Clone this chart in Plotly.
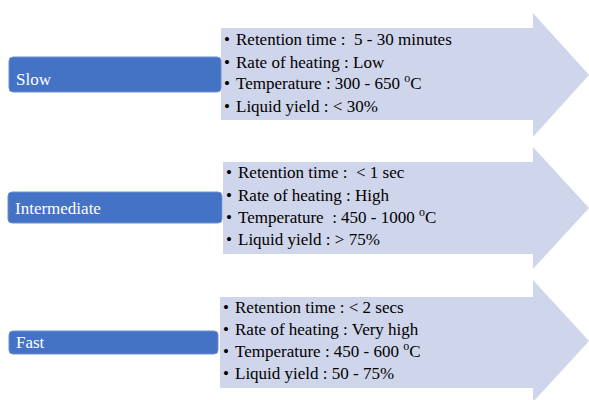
import plotly.graph_objects as go

# ---- data ----
categories = ["Slow", "Intermediate", "Fast"]
retention = ["Retention time :\u00a0 5 - 30 minutes", "Retention time :\u00a0 &lt; 1 sec", "Retention time : &lt; 2 secs"]
heating = ["Rate of heating : Low", "Rate of heating : High", "Rate of heating : Very high"]
temperature = ["Temperature : 300 - 650 <sup>o</sup>C", "Temperature \u00a0: 450 - 1000 <sup>o</sup>C", "Temperature : 450 - 600 <sup>o</sup>C"]
liquid = ["Liquid yield : &lt; 30%", "Liquid yield : &gt; 75%", "Liquid yield : 50 - 75%"]

# ---- layout geometry (pixels) ----
W, H = 589, 400
arrows = [  # body_left, body_top, body_bottom, head_x, head_top, head_bottom, tip_x, tip_y
    (221, 28, 120, 533, 13, 137, 589, 75),
    (223, 162, 254, 533, 147, 269, 589, 208),
    (220, 297, 388, 533, 280, 402, 589, 341),
]
boxes = [  # x0, x1, y0, y1, label_y
    (9, 221, 57, 92, 79),
    (8, 222, 192, 223, 208),
    (9, 218, 331, 354, 342),
]
line_y = [
    [39, 62, 83, 106],
    [172, 195, 217, 239],
    [307, 329, 351, 373],
]
ARROW_COL = "#CFD5EA"
BOX_COL = "#4472C4"
FONT = "Liberation Serif, Times New Roman, serif"
FS = 17

shapes = []
annotations = []

def rounded_rect(x0, x1, y0, y1, r):
    return (f"M{x0+r},{y0} L{x1-r},{y0} Q{x1},{y0} {x1},{y0+r} L{x1},{y1-r} Q{x1},{y1} {x1-r},{y1} "
            f"L{x0+r},{y1} Q{x0},{y1} {x0},{y1-r} L{x0},{y0+r} Q{x0},{y0} {x0+r},{y0} Z")

for i, cat in enumerate(categories):
    bl, bt, bb, hx, ht, hb, tx, ty = arrows[i]
    path = f"M{bl},{bt} L{hx},{bt} L{hx},{ht} L{tx},{ty} L{hx},{hb} L{hx},{bb} L{bl},{bb} Z"
    shapes.append(dict(type="path", path=path, fillcolor=ARROW_COL, line=dict(width=0), layer="below"))
    x0, x1, y0, y1, ly = boxes[i]
    shapes.append(dict(type="path", path=rounded_rect(x0, x1, y0, y1, 4), fillcolor=BOX_COL,
                       line=dict(color="#6F8FD0", width=1), layer="below"))
    annotations.append(dict(x=x0 + 5, y=ly, text=cat, showarrow=False, xanchor="left", yanchor="middle",
                            font=dict(family=FONT, size=FS, color="white")))
    texts = [retention[i], heating[i], temperature[i], liquid[i]]
    for j, t in enumerate(texts):
        y = line_y[i][j]
        ys = 1 if "<sup>" in t else 0
        annotations.append(dict(x=bl + 1, y=y, text="•", showarrow=False, xanchor="left", yanchor="middle",
                                font=dict(family=FONT, size=FS, color="black")))
        annotations.append(dict(x=bl + 13, y=y, yshift=ys, text=t, showarrow=False, xanchor="left", yanchor="middle",
                                font=dict(family=FONT, size=FS, color="black")))

fig = go.Figure()
fig.update_layout(
    width=W, height=H, margin=dict(l=0, r=0, t=0, b=0),
    paper_bgcolor="white", plot_bgcolor="white",
    xaxis=dict(range=[0, W], visible=False, fixedrange=True),
    yaxis=dict(range=[H, 0], visible=False, fixedrange=True),
    shapes=shapes, annotations=annotations, showlegend=False,
)
fig.write_html("out.html", config={"displayModeBar": False},
               post_script="document.body.style.margin='0';")
